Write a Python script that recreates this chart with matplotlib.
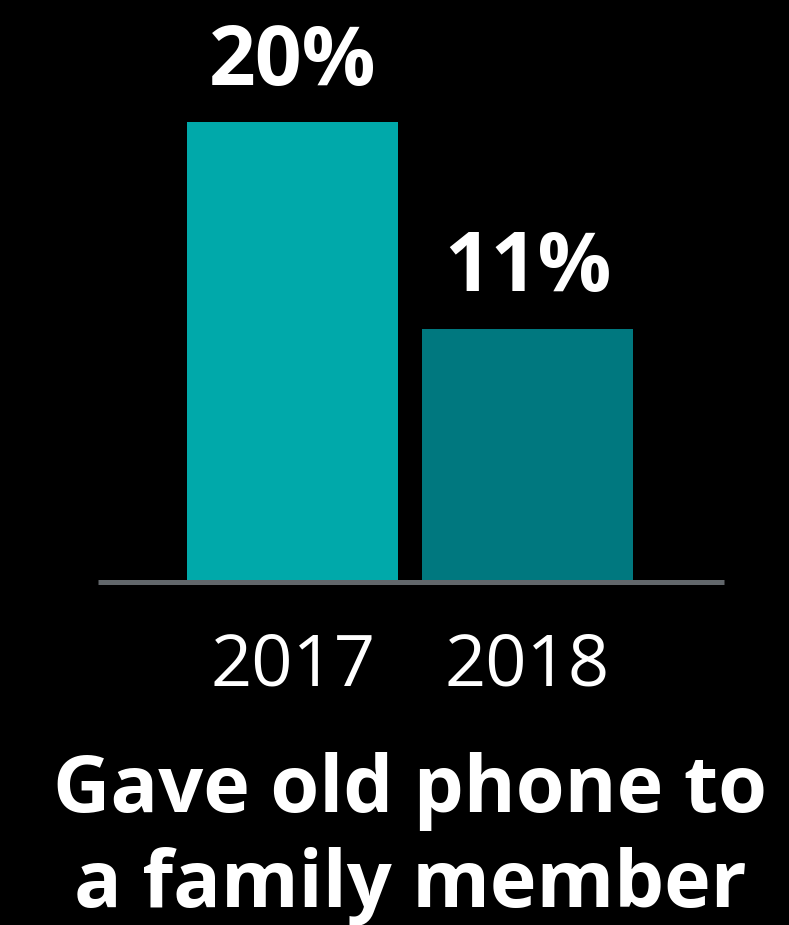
import matplotlib
matplotlib.use("Agg")
import matplotlib.pyplot as plt

years = ["2017", "2018"]
shares = [20, 11]
bar_colors = ["#00A9AA", "#00787F"]
title_lines = ["Gave old phone to", "a family member"]

W, H, DPI = 789, 925, 100
fig = plt.figure(figsize=(W / DPI, H / DPI), dpi=DPI, facecolor="black")

# axes spanning the baseline rule; bottom edge sits on the baseline
ax = fig.add_axes([98 / W, (H - 582) / H, 626 / W, 575 / H])
ax.set_facecolor("black")
pos = list(range(len(years)))
bars = ax.bar(pos, shares, width=0.898, color=bar_colors, zorder=2)
ax.set_xlim(-0.828, 1.836)
ax.set_ylim(0, 25)
ax.axhline(0, color="#62676B", lw=3.6, zorder=3, clip_on=False,
           solid_capstyle="butt")
for s in ax.spines.values():
    s.set_visible(False)
ax.set_yticks([])
ax.set_xticks(pos)
ax.set_xticklabels(years, fontsize=52, color="white", family="Open Sans")
ax.tick_params(axis="x", length=0, pad=35)

for b, v in zip(bars, shares):
    ax.annotate(f"{v}%", (b.get_x() + b.get_width() / 2, v),
                xytext=(0, 27), textcoords="offset points",
                ha="center", va="baseline", fontsize=59,
                fontweight="bold", color="white", family="Open Sans")

fig.text(410 / W, 1 - 812 / H, title_lines[0], ha="center", va="baseline",
         fontsize=57, fontweight="bold", color="white", family="Open Sans")
fig.text(410 / W, 1 - 907 / H, title_lines[1], ha="center", va="baseline",
         fontsize=57, fontweight="bold", color="white", family="Open Sans")

fig.savefig("out.png", dpi=DPI, facecolor="black")
